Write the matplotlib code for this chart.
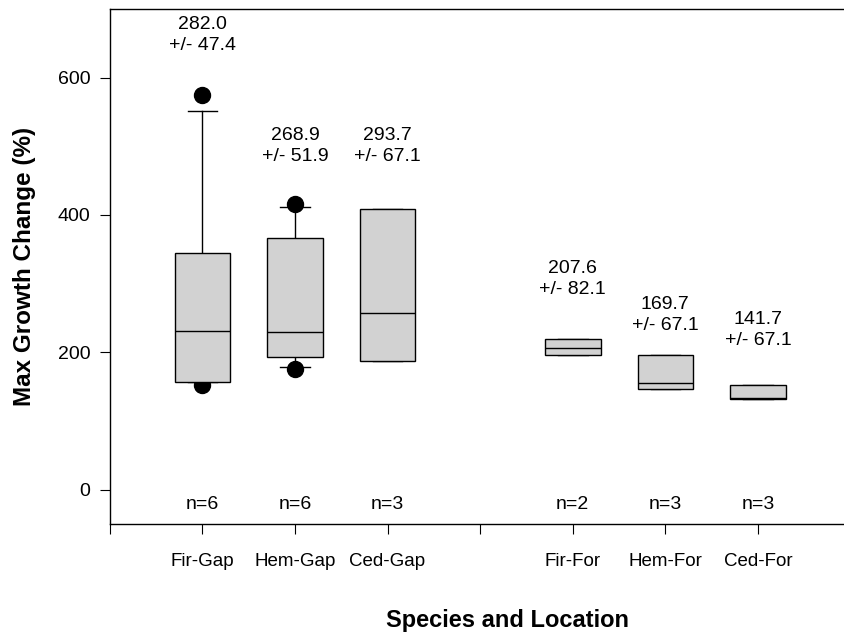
import numpy as np
import matplotlib
matplotlib.use('Agg')
import matplotlib.pyplot as plt

plt.rcParams['font.family'] = ['Liberation Sans', 'DejaVu Sans']

# box statistics
groups = ['Fir-Gap', 'Hem-Gap', 'Ced-Gap', 'Fir-For', 'Hem-For', 'Ced-For']
positions = [1, 2, 3, 5, 6, 7]
q1 = [157, 193, 187, 196, 146, 132]
med = [231, 230, 258, 207, 156, 133]
q3 = [345, 367, 409, 219, 196, 153]
whis_lo = [157, 178, 187, 196, 146, 132]
whis_hi = [552, 411, 409, 219, 196, 153]
fliers = [[574, 152], [416, 176], [], [], [], []]
n_obs = [6, 6, 3, 2, 3, 3]
means = [282.0, 268.9, 293.7, 207.6, 169.7, 141.7]
sems = [47.4, 51.9, 67.1, 82.1, 67.1, 67.1]
label_y = [662, 500, 500, 307, 254, 233]

BOX_COLOR = '#d2d2d2'

fig = plt.figure(figsize=(8.44, 6.33), dpi=100)
ax = fig.add_axes([0.130, 0.172, 0.869, 0.814])

stats = []
for i in range(len(groups)):
    stats.append(dict(med=med[i], q1=q1[i], q3=q3[i],
                      whislo=whis_lo[i], whishi=whis_hi[i],
                      fliers=fliers[i]))

bp = ax.bxp(stats, positions=positions, widths=0.6, patch_artist=True,
            showfliers=True, capwidths=0.32,
            boxprops=dict(facecolor=BOX_COLOR, edgecolor='black', linewidth=1.0),
            medianprops=dict(color='black', linewidth=1.0),
            whiskerprops=dict(color='black', linewidth=1.0),
            capprops=dict(color='black', linewidth=1.0),
            flierprops=dict(marker='o', markerfacecolor='black',
                            markeredgecolor='black', markersize=11.5))
# outliers sit behind the boxes
for fl in bp['fliers']:
    fl.set_zorder(1)
for b in bp['boxes']:
    b.set_zorder(3)
for m in bp['medians']:
    m.set_zorder(4)

# mean +/- se above each box
for x, m, s, y in zip(positions, means, sems, label_y):
    ax.text(x, y, f'{m:.1f}\n+/- {s:.1f}', ha='center', va='center',
            fontsize=14, linespacing=1.3)

# sample sizes
for x, n in zip(positions, n_obs):
    ax.text(x, -22, f'n={n}', ha='center', va='center', fontsize=14)

ax.set_xlim(0, 7.92)
ax.set_ylim(-50, 700)
ax.set_xticks(range(0, 8))
tick_labels = [''] * 8
for p, g in zip(positions, groups):
    tick_labels[p] = g
ax.set_xticklabels(tick_labels)
ax.set_yticks([0, 200, 400, 600])

ax.tick_params(axis='x', direction='out', length=7, pad=14, labelsize=13.5)
ax.tick_params(axis='y', direction='out', length=7, pad=7, labelsize=14)

ax.spines['right'].set_visible(False)
for s in ['left', 'bottom', 'top']:
    ax.spines[s].set_linewidth(1.0)

ax.set_xlabel('Species and Location', fontsize=17, fontweight='bold')
ax.xaxis.set_label_coords(0.542, -0.165)
ax.set_ylabel('Max Growth Change (%)', fontsize=17.5, fontweight='bold')
ax.yaxis.set_label_coords(-0.10, 0.5)

plt.savefig('out.png', dpi=100, facecolor='white')
